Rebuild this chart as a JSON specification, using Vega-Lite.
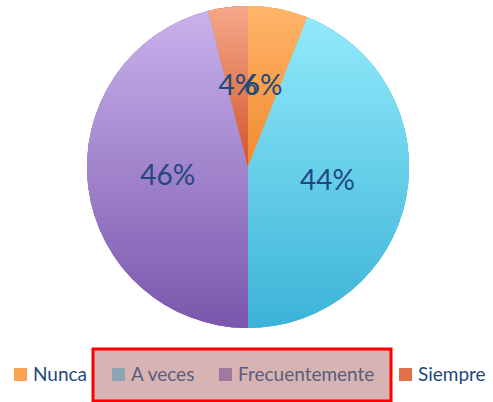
{
  "$schema": "https://vega.github.io/schema/vega-lite/v6.json",
  "width": 492,
  "height": 334,
  "padding": {"left": 2, "top": 0, "right": 0, "bottom": 0},
  "autosize": {"type": "pad"},
  "data": {
    "values": [
      {"categoria": "Siempre", "porcentaje": 0.04, "orden": 4},
      {"categoria": "Frecuentemente", "porcentaje": 0.46, "orden": 3},
      {"categoria": "A veces", "porcentaje": 0.44, "orden": 2},
      {"categoria": "Nunca", "porcentaje": 0.06, "orden": 1}
    ]
  },
  "encoding": {
    "theta": {"field": "porcentaje", "type": "quantitative", "stack": true},
    "order": {"field": "orden", "type": "quantitative"}
  },
  "layer": [
    {
      "mark": {"type": "arc", "radius": 161},
      "encoding": {
        "color": {
          "field": "categoria", "type": "nominal",
          "scale": {"domain": ["Nunca", "A veces", "Frecuentemente", "Siempre"], "range": ["#F9A252", "#64CCE8", "#A583CE", "#E2704A"]},
          "legend": {"values": ["Nunca"], "title": " ", "titleFontSize": 10, "titlePadding": 6, "padding": 0}
        }
      }
    },
    {
      "mark": {"type": "arc", "radius": 161},
      "encoding": {
        "color": {
          "field": "categoria", "type": "nominal",
          "scale": {"domain": ["Nunca", "A veces", "Frecuentemente", "Siempre"], "range": ["#F9A252", "#8FA4B2", "#9E7AA0", "#E2704A"]},
          "legend": {
            "values": ["A veces", "Frecuentemente"], "title": null, "direction": "horizontal",
            "columnPadding": 20, "padding": 16, "gridAlign": "none",
            "fillColor": "#D6B4B4", "strokeColor": "#FF0000",
            "labelColor": "#5C5C7C"
          }
        }
      }
    },
    {
      "mark": {"type": "arc", "radius": 161},
      "encoding": {
        "color": {
          "field": "categoria", "type": "nominal",
          "scale": {"domain": ["Nunca", "A veces", "Frecuentemente", "Siempre"], "range": ["#F9A252", "#64CCE8", "#A583CE", "#E2704A"]},
          "legend": {"values": ["Siempre"], "title": " ", "titleFontSize": 10, "titlePadding": 6, "padding": 0}
        }
      }
    },
    {
      "mark": {"type": "arc", "radius": 161, "color": {"gradient": "linear", "x1": 0, "y1": 0, "x2": 0, "y2": 1, "stops": [{"offset": 0, "color": "#FFB56A"}, {"offset": 1, "color": "#F28A30"}]}},
      "encoding": {"opacity": {"condition": {"test": "datum.categoria === 'Nunca'", "value": 1}, "value": 0}}
    },
    {
      "mark": {"type": "arc", "radius": 161, "color": {"gradient": "linear", "x1": 0, "y1": 0, "x2": 0, "y2": 1, "stops": [{"offset": 0, "color": "#92EAFB"}, {"offset": 1, "color": "#3BB3D7"}]}},
      "encoding": {"opacity": {"condition": {"test": "datum.categoria === 'A veces'", "value": 1}, "value": 0}}
    },
    {
      "mark": {"type": "arc", "radius": 161, "color": {"gradient": "linear", "x1": 0, "y1": 0, "x2": 0, "y2": 1, "stops": [{"offset": 0, "color": "#C8B2EC"}, {"offset": 1, "color": "#7A56AC"}]}},
      "encoding": {"opacity": {"condition": {"test": "datum.categoria === 'Frecuentemente'", "value": 1}, "value": 0}}
    },
    {
      "mark": {"type": "arc", "radius": 161, "color": {"gradient": "linear", "x1": 0, "y1": 0, "x2": 0, "y2": 1, "stops": [{"offset": 0, "color": "#F5A88A"}, {"offset": 1, "color": "#D2552A"}]}},
      "encoding": {"opacity": {"condition": {"test": "datum.categoria === 'Siempre'", "value": 1}, "value": 0}}
    },
    {
      "mark": {"type": "text", "radius": 81, "font": "Lato", "fontSize": 28, "color": "#1F497D"},
      "encoding": {
        "text": {"field": "porcentaje", "type": "quantitative", "format": ".0%"}
      }
    }
  ],
  "resolve": {"scale": {"color": "independent"}, "legend": {"color": "independent"}},
  "config": {
    "view": {"stroke": null},
    "legend": {
      "orient": "bottom",
      "offset": 15,
      "layout": {"bottom": {"anchor": "middle", "direction": "horizontal", "margin": 5}},
      "strokeWidth": 3,
      "symbolType": "square",
      "symbolSize": 169,
      "symbolStrokeWidth": 0,
      "labelFont": "Lato",
      "labelFontSize": 19,
      "labelColor": "#1F497D",
      "labelOffset": 3,
      "labelLimit": 300
    }
  }
}
